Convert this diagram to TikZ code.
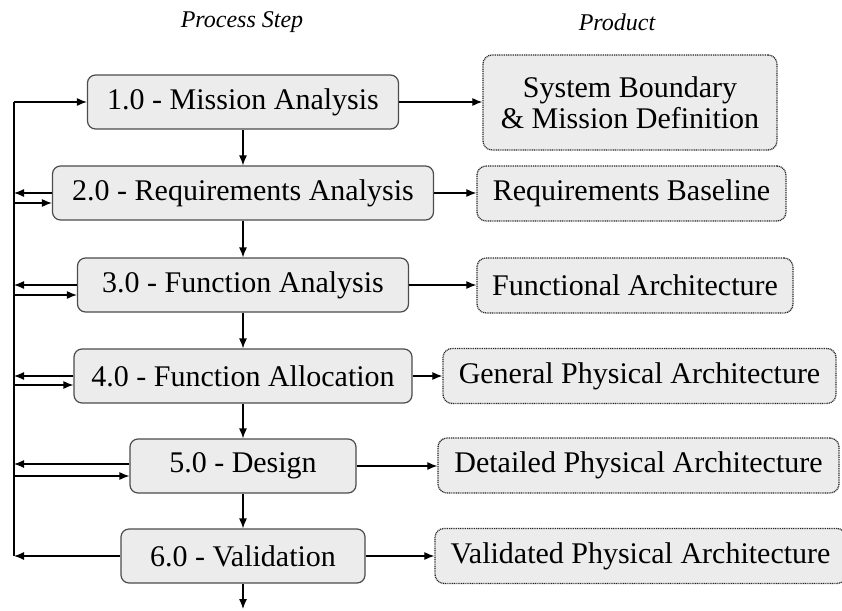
\documentclass[tikz,border=0pt]{standalone}
\usepackage{xcolor}
\usepackage{fontspec}
\setmainfont{Liberation Serif}
\usetikzlibrary{arrows.meta}

\begin{document}
\begin{tikzpicture}[x=1pt,y=-1pt,
		stepbox/.style={draw=black!70,line width=1.2pt,fill=gray!15,rounded corners=8pt,
			minimum height=54pt,inner sep=0pt,font=\fontsize{30}{34}\selectfont},
		prodbox/.style={draw=black!85,line width=1.3pt,dash pattern=on 1pt off 0.8pt,fill=gray!15,
			rounded corners=9pt,minimum height=55pt,inner sep=0pt,align=center,
			font=\fontsize{30}{33}\selectfont},
		head/.style={font=\fontsize{24}{27}\selectfont\itshape},
		link/.style={line width=1.2pt,-{Latex[length=10pt,width=8pt]}},
		wire/.style={line width=1.2pt}]
		\useasboundingbox (0,0) rectangle (842,610);
		% headings
		\node[head] (hstep) at (242,22) {Process Step};
		\node[head] (hprod) at (617,22) {Product};
		% process steps
		\node[stepbox,minimum width=311pt] (S1) at (243,102) {1.0 - Mission Analysis};
		\node[stepbox,minimum width=381pt] (S2) at (243,193) {2.0 - Requirements Analysis};
		\node[stepbox,minimum width=331pt] (S3) at (243,285) {3.0 - Function Analysis};
		\node[stepbox,minimum width=338pt] (S4) at (243,376) {4.0 - Function Allocation};
		\node[stepbox,minimum width=226pt] (S5) at (243,466) {5.0 - Design};
		\node[stepbox,minimum width=244pt] (S6) at (243,556) {6.0 - Validation};
		% products
		\node[prodbox,minimum width=294pt,minimum height=95pt] (P1) at (630,102.5) {System Boundary\\[-2pt]\& Mission Definition};
		\node[prodbox,minimum width=309pt] (P2) at (631.5,193.5) {Requirements Baseline};
		\node[prodbox,minimum width=316pt] (P3) at (635,285.5) {Functional Architecture};
		\node[prodbox,minimum width=393pt] (P4) at (639.5,376) {General Physical Architecture};
		\node[prodbox,minimum width=401pt] (P5) at (638.5,465.5) {Detailed Physical Architecture};
		\node[prodbox,minimum width=411pt] (P6) at (640.5,556) {Validated Physical Architecture};
		\coordinate (L) at (14,0);
		\coordinate (end) at (243,609);
		% down the chain
		\draw[link] (S1) -- (S2);
		\draw[link] (S2) -- (S3);
		\draw[link] (S3) -- (S4);
		\draw[link] (S4) -- (S5);
		\draw[link] (S5) -- (S6);
		\draw[link] (S6) -- (end);
		% steps to products
		\draw[link] (S1.east) -- (S1.east -| P1.west);
		\draw[link] (S2.east) -- (S2.east -| P2.west);
		\draw[link] (S3.east) -- (S3.east -| P3.west);
		\draw[link] (S4.east) -- (S4.east -| P4.west);
		\draw[link] (S5.east) -- (S5.east -| P5.west);
		\draw[link] (S6.east) -- (S6.east -| P6.west);
		% feedback line
		\draw[wire] (S1.west -| L) -- (S6.west -| L);
		\draw[link] (S1.west -| L) -- (S1.west);
		\draw[link] (S2.west) -- (S2.west -| L);
		\draw[link] ([yshift=-10pt]S2.west -| L) -- ([yshift=-10pt]S2.west);
		\draw[link] (S3.west) -- (S3.west -| L);
		\draw[link] ([yshift=-10pt]S3.west -| L) -- ([yshift=-10pt]S3.west);
		\draw[link] (S4.west) -- (S4.west -| L);
		\draw[link] ([yshift=-9pt]S4.west -| L) -- ([yshift=-9pt]S4.west);
		\draw[link] ([yshift=2pt]S5.west) -- ([yshift=2pt]S5.west -| L);
		\draw[link] ([yshift=-10pt]S5.west -| L) -- ([yshift=-10pt]S5.west);
		\draw[link] (S6.west) -- (S6.west -| L);
	\end{tikzpicture}
\end{document}
